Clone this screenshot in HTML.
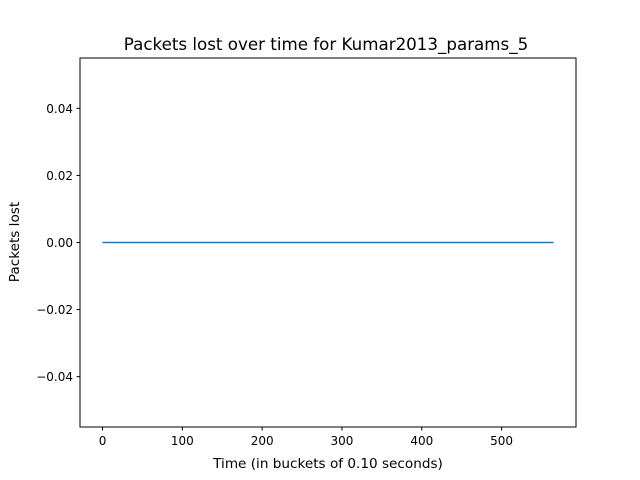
<!DOCTYPE html>
<html><head><meta charset="utf-8"><style>
body{margin:0;background:#fff;}
svg{display:block;font-family:"DejaVu Sans","Liberation Sans",sans-serif;}
</style></head><body>
<svg id="chart" width="640" height="480">
<rect width="640" height="480" fill="#fff"/>
<text x="326" y="50" text-anchor="middle" font-size="16.7" fill="#000">Packets lost over time for Kumar2013_params_5</text>
<text x="328" y="468" text-anchor="middle" font-size="13.6" fill="#000">Time (in buckets of 0.10 seconds)</text>
<text transform="translate(19,242) rotate(-90)" text-anchor="middle" font-size="13.6" fill="#000">Packets lost</text>
<g id="ticks"></g>
<g id="series"></g>
<rect x="80" y="58" width="496" height="369" fill="none" stroke="#000" stroke-width="1"/>
</svg>
<script>
const xTicks=[0,100,200,300,400,500];
const yTicks=[-0.04,-0.02,0.00,0.02,0.04];
const yTickLabels=["\u22120.04","\u22120.02","0.00","0.02","0.04"];
const times=[0,565];
const packetsLost=[0,0];
const X0=80,X1=576,Y0=427,Y1=58;
const xmin=-28.25,xmax=593.25,ymin=-0.055,ymax=0.055;
function sx(v){return X0+(v-xmin)/(xmax-xmin)*(X1-X0);}
function sy(v){return Y0-(v-ymin)/(ymax-ymin)*(Y0-Y1);}
const NS="http://www.w3.org/2000/svg";
const tg=document.getElementById('ticks');
function mk(tag,attrs,parent){const e=document.createElementNS(NS,tag);for(const k in attrs)e.setAttribute(k,attrs[k]);parent.appendChild(e);return e;}
xTicks.forEach(v=>{
  const x=sx(v);
  const l=mk('line',{x1:x,x2:x,y1:Y0,y2:Y0+3.5,stroke:'#000'},tg);
  
  
  const t=mk('text',{x:x,y:Y0+18,'text-anchor':'middle','font-size':12},tg);
  t.textContent=v;
  
  
});
yTicks.forEach((v,i)=>{
  const y=sy(v);
  const l=mk('line',{x1:X0-3.5,x2:X0,y1:y,y2:y,stroke:'#000'},tg);
  
  
  const t=mk('text',{x:X0-7,y:y+4.5,'text-anchor':'end','font-size':12},tg);
  t.textContent=yTickLabels[i];
  
  
});
const pts=times.map((t,i)=>sx(t)+','+sy(packetsLost[i])).join(' ');
const pl=mk('polyline',{points:pts,fill:'none',stroke:'#1f77b4','stroke-width':1.5},document.getElementById('series'));


</script>
</body></html>
